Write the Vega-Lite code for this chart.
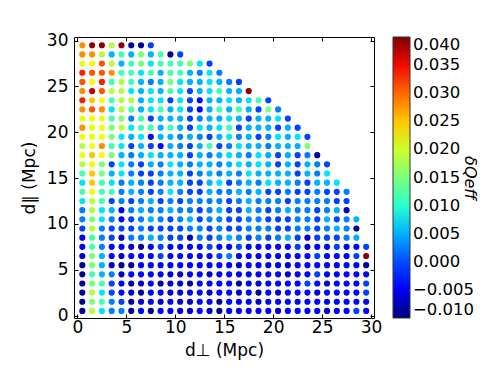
{
"$schema":"https://vega.github.io/schema/vega-lite/v6.json",
"width":300,"height":281,
"autosize":{"type":"none"},
"padding":{"left":74,"top":37,"right":125,"bottom":56},
"config":{"font":"DejaVu Sans","view":{"stroke":"#000","strokeWidth":1},
"axis":{"grid":false,"domain":false,"tickColor":"#000","tickSize":-4,"tickWidth":1,"labelColor":"#000","labelFontSize":17,"titleColor":"#000","titleFontSize":17,"titleFontWeight":"normal"}},
"data":{"values":[
{"x":0.5,"y":29.5,"v":0.028},{"x":1.5,"y":29.5,"v":0.0395},{"x":2.5,"y":29.5,"v":0.0395},{"x":3.5,"y":29.5,"v":0.0185},{"x":4.5,"y":29.5,"v":0.0395},{"x":5.5,"y":29.5,"v":-0.0092},{"x":6.5,"y":29.5,"v":-0.0092},{"x":7.5,"y":29.5,"v":-0.0005},
{"x":0.5,"y":28.5,"v":0.028},{"x":1.5,"y":28.5,"v":0.028},{"x":2.5,"y":28.5,"v":0.0185},{"x":3.5,"y":28.5,"v":0.005},{"x":4.5,"y":28.5,"v":0.0115},{"x":5.5,"y":28.5,"v":0.005},{"x":6.5,"y":28.5,"v":0.015},{"x":7.5,"y":28.5,"v":0.005},{"x":8.5,"y":28.5,"v":0.0115},{"x":9.5,"y":28.5,"v":-0.0092},{"x":10.5,"y":28.5,"v":-0.0005},
{"x":0.5,"y":27.5,"v":0.022},{"x":1.5,"y":27.5,"v":0.022},{"x":2.5,"y":27.5,"v":0.031},{"x":3.5,"y":27.5,"v":0.0185},{"x":4.5,"y":27.5,"v":0.005},{"x":5.5,"y":27.5,"v":0.0115},{"x":6.5,"y":27.5,"v":0.015},{"x":7.5,"y":27.5,"v":0.0075},{"x":8.5,"y":27.5,"v":0.0115},{"x":9.5,"y":27.5,"v":0.0115},{"x":10.5,"y":27.5,"v":0.0115},{"x":11.5,"y":27.5,"v":0.015},{"x":12.5,"y":27.5,"v":0.0075},{"x":13.5,"y":27.5,"v":-0.0005},
{"x":0.5,"y":26.5,"v":0.034},{"x":1.5,"y":26.5,"v":0.031},{"x":2.5,"y":26.5,"v":0.031},{"x":3.5,"y":26.5,"v":0.028},{"x":4.5,"y":26.5,"v":0.0115},{"x":5.5,"y":26.5,"v":0.0115},{"x":6.5,"y":26.5,"v":0.0075},{"x":7.5,"y":26.5,"v":0.0115},{"x":8.5,"y":26.5,"v":0.005},{"x":9.5,"y":26.5,"v":0.0115},{"x":10.5,"y":26.5,"v":0.0115},{"x":11.5,"y":26.5,"v":0.005},{"x":12.5,"y":26.5,"v":0.0025},{"x":13.5,"y":26.5,"v":0.0075},{"x":14.5,"y":26.5,"v":0.0025},
{"x":0.5,"y":25.5,"v":0.031},{"x":1.5,"y":25.5,"v":0.022},{"x":2.5,"y":25.5,"v":0.034},{"x":3.5,"y":25.5,"v":0.0115},{"x":4.5,"y":25.5,"v":0.0185},{"x":5.5,"y":25.5,"v":0.0115},{"x":6.5,"y":25.5,"v":0.005},{"x":7.5,"y":25.5,"v":0.0025},{"x":8.5,"y":25.5,"v":0.005},{"x":9.5,"y":25.5,"v":0.015},{"x":10.5,"y":25.5,"v":0.0075},{"x":11.5,"y":25.5,"v":0.005},{"x":12.5,"y":25.5,"v":0.005},{"x":13.5,"y":25.5,"v":0.0075},{"x":14.5,"y":25.5,"v":0.005},{"x":15.5,"y":25.5,"v":0.0025},{"x":16.5,"y":25.5,"v":-0.0005},
{"x":0.5,"y":24.5,"v":0.028},{"x":1.5,"y":24.5,"v":0.037},{"x":2.5,"y":24.5,"v":0.031},{"x":3.5,"y":24.5,"v":0.0185},{"x":4.5,"y":24.5,"v":0.0185},{"x":5.5,"y":24.5,"v":0.0075},{"x":6.5,"y":24.5,"v":0.005},{"x":7.5,"y":24.5,"v":0.0075},{"x":8.5,"y":24.5,"v":0.005},{"x":9.5,"y":24.5,"v":0.0115},{"x":10.5,"y":24.5,"v":0.0075},{"x":11.5,"y":24.5,"v":-0.0005},{"x":12.5,"y":24.5,"v":0.005},{"x":13.5,"y":24.5,"v":0.0075},{"x":14.5,"y":24.5,"v":0.0115},{"x":15.5,"y":24.5,"v":0.005},{"x":16.5,"y":24.5,"v":0.005},{"x":17.5,"y":24.5,"v":0.0395},
{"x":0.5,"y":23.5,"v":0.034},{"x":1.5,"y":23.5,"v":0.025},{"x":2.5,"y":23.5,"v":0.022},{"x":3.5,"y":23.5,"v":0.0115},{"x":4.5,"y":23.5,"v":0.0185},{"x":5.5,"y":23.5,"v":0.0185},{"x":6.5,"y":23.5,"v":0.005},{"x":7.5,"y":23.5,"v":0.0075},{"x":8.5,"y":23.5,"v":0.0075},{"x":9.5,"y":23.5,"v":-0.0005},{"x":10.5,"y":23.5,"v":0.0075},{"x":11.5,"y":23.5,"v":-0.0005},{"x":12.5,"y":23.5,"v":-0.0035},{"x":13.5,"y":23.5,"v":0.005},{"x":14.5,"y":23.5,"v":0.005},{"x":15.5,"y":23.5,"v":0.0075},{"x":16.5,"y":23.5,"v":0.005},{"x":17.5,"y":23.5,"v":0.0075},{"x":18.5,"y":23.5,"v":0.0115},{"x":19.5,"y":23.5,"v":-0.0005},
{"x":0.5,"y":22.5,"v":0.028},{"x":1.5,"y":22.5,"v":0.031},{"x":2.5,"y":22.5,"v":0.028},{"x":3.5,"y":22.5,"v":0.0075},{"x":4.5,"y":22.5,"v":0.0185},{"x":5.5,"y":22.5,"v":0.0115},{"x":6.5,"y":22.5,"v":0.005},{"x":7.5,"y":22.5,"v":0.0075},{"x":8.5,"y":22.5,"v":0.0115},{"x":9.5,"y":22.5,"v":0.005},{"x":10.5,"y":22.5,"v":0.0075},{"x":11.5,"y":22.5,"v":-0.0005},{"x":12.5,"y":22.5,"v":-0.0035},{"x":13.5,"y":22.5,"v":0.005},{"x":14.5,"y":22.5,"v":0.0115},{"x":15.5,"y":22.5,"v":0.005},{"x":16.5,"y":22.5,"v":0.0115},{"x":17.5,"y":22.5,"v":0.005},{"x":18.5,"y":22.5,"v":-0.0005},{"x":19.5,"y":22.5,"v":0.015},{"x":20.5,"y":22.5,"v":0.0025},
{"x":0.5,"y":21.5,"v":0.022},{"x":1.5,"y":21.5,"v":0.022},{"x":2.5,"y":21.5,"v":0.022},{"x":3.5,"y":21.5,"v":0.0115},{"x":4.5,"y":21.5,"v":0.015},{"x":5.5,"y":21.5,"v":0.0025},{"x":6.5,"y":21.5,"v":0.0115},{"x":7.5,"y":21.5,"v":-0.0005},{"x":8.5,"y":21.5,"v":0.005},{"x":9.5,"y":21.5,"v":0.005},{"x":10.5,"y":21.5,"v":0.005},{"x":11.5,"y":21.5,"v":-0.0005},{"x":12.5,"y":21.5,"v":0.0025},{"x":13.5,"y":21.5,"v":0.005},{"x":14.5,"y":21.5,"v":0.005},{"x":15.5,"y":21.5,"v":0.0075},{"x":16.5,"y":21.5,"v":0.005},{"x":17.5,"y":21.5,"v":-0.0005},{"x":18.5,"y":21.5,"v":0.005},{"x":19.5,"y":21.5,"v":0.005},{"x":20.5,"y":21.5,"v":0.0075},{"x":21.5,"y":21.5,"v":-0.0005},
{"x":0.5,"y":20.5,"v":0.028},{"x":1.5,"y":20.5,"v":0.022},{"x":2.5,"y":20.5,"v":0.022},{"x":3.5,"y":20.5,"v":0.015},{"x":4.5,"y":20.5,"v":0.0185},{"x":5.5,"y":20.5,"v":0.0075},{"x":6.5,"y":20.5,"v":0.0115},{"x":7.5,"y":20.5,"v":0.0115},{"x":8.5,"y":20.5,"v":0.005},{"x":9.5,"y":20.5,"v":0.0115},{"x":10.5,"y":20.5,"v":0.005},{"x":11.5,"y":20.5,"v":-0.0005},{"x":12.5,"y":20.5,"v":0.0075},{"x":13.5,"y":20.5,"v":0.005},{"x":14.5,"y":20.5,"v":0.0075},{"x":15.5,"y":20.5,"v":0.0115},{"x":16.5,"y":20.5,"v":-0.0005},{"x":17.5,"y":20.5,"v":0.005},{"x":18.5,"y":20.5,"v":0.005},{"x":19.5,"y":20.5,"v":0.005},{"x":20.5,"y":20.5,"v":-0.0005},{"x":21.5,"y":20.5,"v":0.005},{"x":22.5,"y":20.5,"v":-0.0005},
{"x":0.5,"y":19.5,"v":0.022},{"x":1.5,"y":19.5,"v":0.022},{"x":2.5,"y":19.5,"v":0.022},{"x":3.5,"y":19.5,"v":0.015},{"x":4.5,"y":19.5,"v":0.0075},{"x":5.5,"y":19.5,"v":0.005},{"x":6.5,"y":19.5,"v":0.0075},{"x":7.5,"y":19.5,"v":-0.0035},{"x":8.5,"y":19.5,"v":0.005},{"x":9.5,"y":19.5,"v":0.005},{"x":10.5,"y":19.5,"v":0.0025},{"x":11.5,"y":19.5,"v":0.005},{"x":12.5,"y":19.5,"v":0.0025},{"x":13.5,"y":19.5,"v":-0.0005},{"x":14.5,"y":19.5,"v":0.005},{"x":15.5,"y":19.5,"v":0.0075},{"x":16.5,"y":19.5,"v":0.0025},{"x":17.5,"y":19.5,"v":0.005},{"x":18.5,"y":19.5,"v":-0.0005},{"x":19.5,"y":19.5,"v":0.0025},{"x":20.5,"y":19.5,"v":0.0075},{"x":21.5,"y":19.5,"v":0.005},{"x":22.5,"y":19.5,"v":0.0075},{"x":23.5,"y":19.5,"v":-0.0005},
{"x":0.5,"y":18.5,"v":0.0185},{"x":1.5,"y":18.5,"v":0.022},{"x":2.5,"y":18.5,"v":0.028},{"x":3.5,"y":18.5,"v":0.0115},{"x":4.5,"y":18.5,"v":0.0075},{"x":5.5,"y":18.5,"v":-0.0005},{"x":6.5,"y":18.5,"v":0.005},{"x":7.5,"y":18.5,"v":-0.0005},{"x":8.5,"y":18.5,"v":-0.0035},{"x":9.5,"y":18.5,"v":0.005},{"x":10.5,"y":18.5,"v":0.0025},{"x":11.5,"y":18.5,"v":-0.0005},{"x":12.5,"y":18.5,"v":0.005},{"x":13.5,"y":18.5,"v":0.0115},{"x":14.5,"y":18.5,"v":-0.0005},{"x":15.5,"y":18.5,"v":0.0025},{"x":16.5,"y":18.5,"v":0.0075},{"x":17.5,"y":18.5,"v":0.005},{"x":18.5,"y":18.5,"v":0.005},{"x":19.5,"y":18.5,"v":0.0025},{"x":20.5,"y":18.5,"v":0.005},{"x":21.5,"y":18.5,"v":0.005},{"x":22.5,"y":18.5,"v":0.005},{"x":23.5,"y":18.5,"v":0.015},
{"x":0.5,"y":17.5,"v":0.022},{"x":1.5,"y":17.5,"v":0.025},{"x":2.5,"y":17.5,"v":0.022},{"x":3.5,"y":17.5,"v":0.015},{"x":4.5,"y":17.5,"v":0.005},{"x":5.5,"y":17.5,"v":0.0025},{"x":6.5,"y":17.5,"v":0.005},{"x":7.5,"y":17.5,"v":0.0075},{"x":8.5,"y":17.5,"v":0.005},{"x":9.5,"y":17.5,"v":0.005},{"x":10.5,"y":17.5,"v":0.005},{"x":11.5,"y":17.5,"v":-0.0005},{"x":12.5,"y":17.5,"v":0.005},{"x":13.5,"y":17.5,"v":0.0025},{"x":14.5,"y":17.5,"v":0.005},{"x":15.5,"y":17.5,"v":0.0075},{"x":16.5,"y":17.5,"v":0.005},{"x":17.5,"y":17.5,"v":0.0025},{"x":18.5,"y":17.5,"v":0.0075},{"x":19.5,"y":17.5,"v":0.005},{"x":20.5,"y":17.5,"v":-0.0005},{"x":21.5,"y":17.5,"v":0.005},{"x":22.5,"y":17.5,"v":-0.0005},{"x":23.5,"y":17.5,"v":0.0025},{"x":24.5,"y":17.5,"v":-0.0092},
{"x":0.5,"y":16.5,"v":0.0185},{"x":1.5,"y":16.5,"v":0.022},{"x":2.5,"y":16.5,"v":0.015},{"x":3.5,"y":16.5,"v":-0.0005},{"x":4.5,"y":16.5,"v":0.0075},{"x":5.5,"y":16.5,"v":0.0025},{"x":6.5,"y":16.5,"v":-0.0005},{"x":7.5,"y":16.5,"v":0.005},{"x":8.5,"y":16.5,"v":0.0025},{"x":9.5,"y":16.5,"v":0.0075},{"x":10.5,"y":16.5,"v":0.005},{"x":11.5,"y":16.5,"v":0.0025},{"x":12.5,"y":16.5,"v":0.005},{"x":13.5,"y":16.5,"v":0.005},{"x":14.5,"y":16.5,"v":0.0025},{"x":15.5,"y":16.5,"v":0.005},{"x":16.5,"y":16.5,"v":0.0075},{"x":17.5,"y":16.5,"v":0.005},{"x":18.5,"y":16.5,"v":0.0075},{"x":19.5,"y":16.5,"v":0.005},{"x":20.5,"y":16.5,"v":-0.0005},{"x":21.5,"y":16.5,"v":0.005},{"x":22.5,"y":16.5,"v":-0.0005},{"x":23.5,"y":16.5,"v":0.005},{"x":24.5,"y":16.5,"v":0.0025},{"x":25.5,"y":16.5,"v":-0.0005},
{"x":0.5,"y":15.5,"v":0.0115},{"x":1.5,"y":15.5,"v":0.025},{"x":2.5,"y":15.5,"v":0.015},{"x":3.5,"y":15.5,"v":0.005},{"x":4.5,"y":15.5,"v":0.0075},{"x":5.5,"y":15.5,"v":0.0025},{"x":6.5,"y":15.5,"v":-0.0005},{"x":7.5,"y":15.5,"v":-0.0005},{"x":8.5,"y":15.5,"v":0.0025},{"x":9.5,"y":15.5,"v":0.005},{"x":10.5,"y":15.5,"v":0.005},{"x":11.5,"y":15.5,"v":-0.0005},{"x":12.5,"y":15.5,"v":0.0025},{"x":13.5,"y":15.5,"v":0.005},{"x":14.5,"y":15.5,"v":0.0025},{"x":15.5,"y":15.5,"v":0.005},{"x":16.5,"y":15.5,"v":0.0025},{"x":17.5,"y":15.5,"v":0.0075},{"x":18.5,"y":15.5,"v":0.005},{"x":19.5,"y":15.5,"v":0.005},{"x":20.5,"y":15.5,"v":0.005},{"x":21.5,"y":15.5,"v":0.005},{"x":22.5,"y":15.5,"v":-0.0005},{"x":23.5,"y":15.5,"v":0.005},{"x":24.5,"y":15.5,"v":0.0025},{"x":25.5,"y":15.5,"v":0.0075},
{"x":0.5,"y":14.5,"v":0.0075},{"x":1.5,"y":14.5,"v":0.025},{"x":2.5,"y":14.5,"v":0.0115},{"x":3.5,"y":14.5,"v":0.0075},{"x":4.5,"y":14.5,"v":0.0025},{"x":5.5,"y":14.5,"v":0.005},{"x":6.5,"y":14.5,"v":0.0025},{"x":7.5,"y":14.5,"v":-0.0005},{"x":8.5,"y":14.5,"v":0.0025},{"x":9.5,"y":14.5,"v":0.005},{"x":10.5,"y":14.5,"v":0.005},{"x":11.5,"y":14.5,"v":-0.0005},{"x":12.5,"y":14.5,"v":-0.0005},{"x":13.5,"y":14.5,"v":0.005},{"x":14.5,"y":14.5,"v":0.0075},{"x":15.5,"y":14.5,"v":-0.0005},{"x":16.5,"y":14.5,"v":0.0025},{"x":17.5,"y":14.5,"v":0.005},{"x":18.5,"y":14.5,"v":0.0025},{"x":19.5,"y":14.5,"v":0.0075},{"x":20.5,"y":14.5,"v":0.005},{"x":21.5,"y":14.5,"v":0.005},{"x":22.5,"y":14.5,"v":0.0025},{"x":23.5,"y":14.5,"v":-0.0005},{"x":24.5,"y":14.5,"v":0.005},{"x":25.5,"y":14.5,"v":0.005},{"x":26.5,"y":14.5,"v":0.0075},
{"x":0.5,"y":13.5,"v":0.0115},{"x":1.5,"y":13.5,"v":0.022},{"x":2.5,"y":13.5,"v":0.0115},{"x":3.5,"y":13.5,"v":0.0115},{"x":4.5,"y":13.5,"v":0.0025},{"x":5.5,"y":13.5,"v":0.005},{"x":6.5,"y":13.5,"v":0.0025},{"x":7.5,"y":13.5,"v":-0.0005},{"x":8.5,"y":13.5,"v":0.0025},{"x":9.5,"y":13.5,"v":0.0075},{"x":10.5,"y":13.5,"v":0.0025},{"x":11.5,"y":13.5,"v":-0.0005},{"x":12.5,"y":13.5,"v":-0.0005},{"x":13.5,"y":13.5,"v":0.005},{"x":14.5,"y":13.5,"v":0.0025},{"x":15.5,"y":13.5,"v":0.0025},{"x":16.5,"y":13.5,"v":0.005},{"x":17.5,"y":13.5,"v":0.0025},{"x":18.5,"y":13.5,"v":0.005},{"x":19.5,"y":13.5,"v":-0.0005},{"x":20.5,"y":13.5,"v":-0.0005},{"x":21.5,"y":13.5,"v":0.0025},{"x":22.5,"y":13.5,"v":-0.0005},{"x":23.5,"y":13.5,"v":-0.0005},{"x":24.5,"y":13.5,"v":0.0025},{"x":25.5,"y":13.5,"v":-0.0005},{"x":26.5,"y":13.5,"v":-0.0005},{"x":27.5,"y":13.5,"v":0.0025},
{"x":0.5,"y":12.5,"v":0.0075},{"x":1.5,"y":12.5,"v":0.0185},{"x":2.5,"y":12.5,"v":0.0115},{"x":3.5,"y":12.5,"v":-0.0005},{"x":4.5,"y":12.5,"v":0.0025},{"x":5.5,"y":12.5,"v":-0.0005},{"x":6.5,"y":12.5,"v":0.0025},{"x":7.5,"y":12.5,"v":0.005},{"x":8.5,"y":12.5,"v":-0.0005},{"x":9.5,"y":12.5,"v":0.0025},{"x":10.5,"y":12.5,"v":-0.0005},{"x":11.5,"y":12.5,"v":0.0025},{"x":12.5,"y":12.5,"v":0.0025},{"x":13.5,"y":12.5,"v":0.0025},{"x":14.5,"y":12.5,"v":0.0025},{"x":15.5,"y":12.5,"v":-0.0005},{"x":16.5,"y":12.5,"v":0.0025},{"x":17.5,"y":12.5,"v":0.005},{"x":18.5,"y":12.5,"v":0.0025},{"x":19.5,"y":12.5,"v":0.0025},{"x":20.5,"y":12.5,"v":0.0025},{"x":21.5,"y":12.5,"v":-0.0005},{"x":22.5,"y":12.5,"v":0.0025},{"x":23.5,"y":12.5,"v":0.0025},{"x":24.5,"y":12.5,"v":0.0025},{"x":25.5,"y":12.5,"v":0.0025},{"x":26.5,"y":12.5,"v":-0.0005},{"x":27.5,"y":12.5,"v":-0.0005},
{"x":0.5,"y":11.5,"v":0.0025},{"x":1.5,"y":11.5,"v":0.0185},{"x":2.5,"y":11.5,"v":0.0075},{"x":3.5,"y":11.5,"v":0.005},{"x":4.5,"y":11.5,"v":-0.0035},{"x":5.5,"y":11.5,"v":0.0025},{"x":6.5,"y":11.5,"v":0.005},{"x":7.5,"y":11.5,"v":0.0025},{"x":8.5,"y":11.5,"v":0.0025},{"x":9.5,"y":11.5,"v":0.005},{"x":10.5,"y":11.5,"v":0.0025},{"x":11.5,"y":11.5,"v":0.0025},{"x":12.5,"y":11.5,"v":-0.0005},{"x":13.5,"y":11.5,"v":0.0025},{"x":14.5,"y":11.5,"v":0.005},{"x":15.5,"y":11.5,"v":-0.0005},{"x":16.5,"y":11.5,"v":-0.0005},{"x":17.5,"y":11.5,"v":0.005},{"x":18.5,"y":11.5,"v":0.0025},{"x":19.5,"y":11.5,"v":-0.0005},{"x":20.5,"y":11.5,"v":0.0025},{"x":21.5,"y":11.5,"v":0.005},{"x":22.5,"y":11.5,"v":0.0025},{"x":23.5,"y":11.5,"v":0.0025},{"x":24.5,"y":11.5,"v":-0.0005},{"x":25.5,"y":11.5,"v":0.0025},{"x":26.5,"y":11.5,"v":0.005},{"x":27.5,"y":11.5,"v":-0.0065},
{"x":0.5,"y":10.5,"v":0.0025},{"x":1.5,"y":10.5,"v":0.015},{"x":2.5,"y":10.5,"v":0.0075},{"x":3.5,"y":10.5,"v":0.0025},{"x":4.5,"y":10.5,"v":-0.0035},{"x":5.5,"y":10.5,"v":-0.0005},{"x":6.5,"y":10.5,"v":0.0025},{"x":7.5,"y":10.5,"v":0.005},{"x":8.5,"y":10.5,"v":0.0025},{"x":9.5,"y":10.5,"v":-0.0005},{"x":10.5,"y":10.5,"v":0.0025},{"x":11.5,"y":10.5,"v":0.005},{"x":12.5,"y":10.5,"v":-0.0005},{"x":13.5,"y":10.5,"v":0.0025},{"x":14.5,"y":10.5,"v":0.0025},{"x":15.5,"y":10.5,"v":-0.0005},{"x":16.5,"y":10.5,"v":-0.0005},{"x":17.5,"y":10.5,"v":0.0025},{"x":18.5,"y":10.5,"v":0.0025},{"x":19.5,"y":10.5,"v":-0.0005},{"x":20.5,"y":10.5,"v":-0.0005},{"x":21.5,"y":10.5,"v":-0.0005},{"x":22.5,"y":10.5,"v":0.0025},{"x":23.5,"y":10.5,"v":0.0025},{"x":24.5,"y":10.5,"v":-0.0005},{"x":25.5,"y":10.5,"v":0.005},{"x":26.5,"y":10.5,"v":-0.0005},{"x":27.5,"y":10.5,"v":0.0025},{"x":28.5,"y":10.5,"v":0.005},
{"x":0.5,"y":9.5,"v":-0.0005},{"x":1.5,"y":9.5,"v":0.0185},{"x":2.5,"y":9.5,"v":0.0025},{"x":3.5,"y":9.5,"v":-0.0005},{"x":4.5,"y":9.5,"v":-0.0005},{"x":5.5,"y":9.5,"v":-0.0005},{"x":6.5,"y":9.5,"v":0.0025},{"x":7.5,"y":9.5,"v":-0.0005},{"x":8.5,"y":9.5,"v":-0.0005},{"x":9.5,"y":9.5,"v":-0.0005},{"x":10.5,"y":9.5,"v":-0.0005},{"x":11.5,"y":9.5,"v":0.0025},{"x":12.5,"y":9.5,"v":0.0025},{"x":13.5,"y":9.5,"v":-0.0005},{"x":14.5,"y":9.5,"v":0.0025},{"x":15.5,"y":9.5,"v":-0.0005},{"x":16.5,"y":9.5,"v":-0.0005},{"x":17.5,"y":9.5,"v":0.0025},{"x":18.5,"y":9.5,"v":0.0025},{"x":19.5,"y":9.5,"v":0.0025},{"x":20.5,"y":9.5,"v":-0.0005},{"x":21.5,"y":9.5,"v":-0.0005},{"x":22.5,"y":9.5,"v":0.0025},{"x":23.5,"y":9.5,"v":0.0025},{"x":24.5,"y":9.5,"v":-0.0005},{"x":25.5,"y":9.5,"v":0.0025},{"x":26.5,"y":9.5,"v":0.005},{"x":27.5,"y":9.5,"v":0.0025},{"x":28.5,"y":9.5,"v":-0.0092},
{"x":0.5,"y":8.5,"v":-0.0035},{"x":1.5,"y":8.5,"v":0.0115},{"x":2.5,"y":8.5,"v":0.0025},{"x":3.5,"y":8.5,"v":-0.0005},{"x":4.5,"y":8.5,"v":-0.0065},{"x":5.5,"y":8.5,"v":0.0025},{"x":6.5,"y":8.5,"v":0.0025},{"x":7.5,"y":8.5,"v":0.005},{"x":8.5,"y":8.5,"v":0.0025},{"x":9.5,"y":8.5,"v":-0.0005},{"x":10.5,"y":8.5,"v":-0.0005},{"x":11.5,"y":8.5,"v":-0.0065},{"x":12.5,"y":8.5,"v":0.0025},{"x":13.5,"y":8.5,"v":-0.0005},{"x":14.5,"y":8.5,"v":0.0025},{"x":15.5,"y":8.5,"v":0.005},{"x":16.5,"y":8.5,"v":0.0025},{"x":17.5,"y":8.5,"v":-0.0005},{"x":18.5,"y":8.5,"v":0.0025},{"x":19.5,"y":8.5,"v":-0.0005},{"x":20.5,"y":8.5,"v":0.0025},{"x":21.5,"y":8.5,"v":0.005},{"x":22.5,"y":8.5,"v":-0.0005},{"x":23.5,"y":8.5,"v":-0.0065},{"x":24.5,"y":8.5,"v":-0.0005},{"x":25.5,"y":8.5,"v":-0.0005},{"x":26.5,"y":8.5,"v":-0.0005},{"x":27.5,"y":8.5,"v":0.0025},{"x":28.5,"y":8.5,"v":0.005},
{"x":0.5,"y":7.5,"v":-0.0035},{"x":1.5,"y":7.5,"v":0.0115},{"x":2.5,"y":7.5,"v":0.0025},{"x":3.5,"y":7.5,"v":-0.0035},{"x":4.5,"y":7.5,"v":-0.0035},{"x":5.5,"y":7.5,"v":-0.0065},{"x":6.5,"y":7.5,"v":-0.0092},{"x":7.5,"y":7.5,"v":-0.0035},{"x":8.5,"y":7.5,"v":-0.0005},{"x":9.5,"y":7.5,"v":-0.0035},{"x":10.5,"y":7.5,"v":-0.0035},{"x":11.5,"y":7.5,"v":-0.0035},{"x":12.5,"y":7.5,"v":-0.0035},{"x":13.5,"y":7.5,"v":-0.0005},{"x":14.5,"y":7.5,"v":-0.0035},{"x":15.5,"y":7.5,"v":-0.0035},{"x":16.5,"y":7.5,"v":-0.0005},{"x":17.5,"y":7.5,"v":-0.0035},{"x":18.5,"y":7.5,"v":-0.0035},{"x":19.5,"y":7.5,"v":-0.0035},{"x":20.5,"y":7.5,"v":-0.0035},{"x":21.5,"y":7.5,"v":-0.0035},{"x":22.5,"y":7.5,"v":-0.0005},{"x":23.5,"y":7.5,"v":-0.0065},{"x":24.5,"y":7.5,"v":-0.0035},{"x":25.5,"y":7.5,"v":-0.0035},{"x":26.5,"y":7.5,"v":-0.0005},{"x":27.5,"y":7.5,"v":-0.0035},{"x":28.5,"y":7.5,"v":-0.0035},{"x":29.5,"y":7.5,"v":-0.0005},
{"x":0.5,"y":6.5,"v":-0.0065},{"x":1.5,"y":6.5,"v":0.015},{"x":2.5,"y":6.5,"v":0.005},{"x":3.5,"y":6.5,"v":-0.0035},{"x":4.5,"y":6.5,"v":-0.0065},{"x":5.5,"y":6.5,"v":-0.0035},{"x":6.5,"y":6.5,"v":-0.0035},{"x":7.5,"y":6.5,"v":-0.0035},{"x":8.5,"y":6.5,"v":-0.0005},{"x":9.5,"y":6.5,"v":-0.0035},{"x":10.5,"y":6.5,"v":-0.0035},{"x":11.5,"y":6.5,"v":-0.0035},{"x":12.5,"y":6.5,"v":-0.0035},{"x":13.5,"y":6.5,"v":-0.0035},{"x":14.5,"y":6.5,"v":-0.0005},{"x":15.5,"y":6.5,"v":0.0025},{"x":16.5,"y":6.5,"v":-0.0035},{"x":17.5,"y":6.5,"v":-0.0035},{"x":18.5,"y":6.5,"v":-0.0035},{"x":19.5,"y":6.5,"v":-0.0035},{"x":20.5,"y":6.5,"v":-0.0035},{"x":21.5,"y":6.5,"v":-0.0035},{"x":22.5,"y":6.5,"v":-0.0035},{"x":23.5,"y":6.5,"v":-0.0035},{"x":24.5,"y":6.5,"v":-0.0005},{"x":25.5,"y":6.5,"v":-0.0035},{"x":26.5,"y":6.5,"v":-0.0035},{"x":27.5,"y":6.5,"v":-0.0035},{"x":28.5,"y":6.5,"v":-0.0005},{"x":29.5,"y":6.5,"v":0.0395},
{"x":0.5,"y":5.5,"v":-0.0092},{"x":1.5,"y":5.5,"v":0.015},{"x":2.5,"y":5.5,"v":0.005},{"x":3.5,"y":5.5,"v":-0.0065},{"x":4.5,"y":5.5,"v":-0.0092},{"x":5.5,"y":5.5,"v":-0.0092},{"x":6.5,"y":5.5,"v":-0.0035},{"x":7.5,"y":5.5,"v":-0.0035},{"x":8.5,"y":5.5,"v":-0.0035},{"x":9.5,"y":5.5,"v":-0.0035},{"x":10.5,"y":5.5,"v":-0.0035},{"x":11.5,"y":5.5,"v":-0.0035},{"x":12.5,"y":5.5,"v":-0.0035},{"x":13.5,"y":5.5,"v":-0.0035},{"x":14.5,"y":5.5,"v":-0.0035},{"x":15.5,"y":5.5,"v":-0.0035},{"x":16.5,"y":5.5,"v":-0.0065},{"x":17.5,"y":5.5,"v":-0.0035},{"x":18.5,"y":5.5,"v":-0.0035},{"x":19.5,"y":5.5,"v":-0.0065},{"x":20.5,"y":5.5,"v":-0.0035},{"x":21.5,"y":5.5,"v":-0.0065},{"x":22.5,"y":5.5,"v":-0.0035},{"x":23.5,"y":5.5,"v":-0.0035},{"x":24.5,"y":5.5,"v":-0.0035},{"x":25.5,"y":5.5,"v":-0.0035},{"x":26.5,"y":5.5,"v":-0.0035},{"x":27.5,"y":5.5,"v":-0.0035},{"x":28.5,"y":5.5,"v":-0.0035},{"x":29.5,"y":5.5,"v":-0.0092},
{"x":0.5,"y":4.5,"v":-0.0092},{"x":1.5,"y":4.5,"v":0.0115},{"x":2.5,"y":4.5,"v":0.005},{"x":3.5,"y":4.5,"v":0.0025},{"x":4.5,"y":4.5,"v":-0.0065},{"x":5.5,"y":4.5,"v":-0.0035},{"x":6.5,"y":4.5,"v":-0.0035},{"x":7.5,"y":4.5,"v":-0.0035},{"x":8.5,"y":4.5,"v":-0.0035},{"x":9.5,"y":4.5,"v":-0.0065},{"x":10.5,"y":4.5,"v":-0.0065},{"x":11.5,"y":4.5,"v":-0.0035},{"x":12.5,"y":4.5,"v":-0.0035},{"x":13.5,"y":4.5,"v":-0.0065},{"x":14.5,"y":4.5,"v":-0.0035},{"x":15.5,"y":4.5,"v":-0.0035},{"x":16.5,"y":4.5,"v":-0.0035},{"x":17.5,"y":4.5,"v":-0.0035},{"x":18.5,"y":4.5,"v":-0.0035},{"x":19.5,"y":4.5,"v":-0.0035},{"x":20.5,"y":4.5,"v":-0.0035},{"x":21.5,"y":4.5,"v":-0.0065},{"x":22.5,"y":4.5,"v":-0.0035},{"x":23.5,"y":4.5,"v":-0.0035},{"x":24.5,"y":4.5,"v":-0.0005},{"x":25.5,"y":4.5,"v":-0.0035},{"x":26.5,"y":4.5,"v":-0.0035},{"x":27.5,"y":4.5,"v":-0.0035},{"x":28.5,"y":4.5,"v":-0.0035},{"x":29.5,"y":4.5,"v":-0.0035},
{"x":0.5,"y":3.5,"v":-0.0092},{"x":1.5,"y":3.5,"v":0.015},{"x":2.5,"y":3.5,"v":0.0115},{"x":3.5,"y":3.5,"v":-0.0005},{"x":4.5,"y":3.5,"v":-0.0035},{"x":5.5,"y":3.5,"v":-0.0092},{"x":6.5,"y":3.5,"v":-0.0065},{"x":7.5,"y":3.5,"v":-0.0035},{"x":8.5,"y":3.5,"v":-0.0092},{"x":9.5,"y":3.5,"v":-0.0065},{"x":10.5,"y":3.5,"v":-0.0065},{"x":11.5,"y":3.5,"v":-0.0092},{"x":12.5,"y":3.5,"v":-0.0035},{"x":13.5,"y":3.5,"v":-0.0035},{"x":14.5,"y":3.5,"v":-0.0035},{"x":15.5,"y":3.5,"v":-0.0035},{"x":16.5,"y":3.5,"v":-0.0092},{"x":17.5,"y":3.5,"v":-0.0035},{"x":18.5,"y":3.5,"v":-0.0065},{"x":19.5,"y":3.5,"v":-0.0035},{"x":20.5,"y":3.5,"v":-0.0035},{"x":21.5,"y":3.5,"v":-0.0035},{"x":22.5,"y":3.5,"v":-0.0035},{"x":23.5,"y":3.5,"v":-0.0005},{"x":24.5,"y":3.5,"v":-0.0035},{"x":25.5,"y":3.5,"v":-0.0065},{"x":26.5,"y":3.5,"v":-0.0035},{"x":27.5,"y":3.5,"v":-0.0035},{"x":28.5,"y":3.5,"v":-0.0035},{"x":29.5,"y":3.5,"v":-0.0005},
{"x":0.5,"y":2.5,"v":-0.0092},{"x":1.5,"y":2.5,"v":0.0185},{"x":2.5,"y":2.5,"v":0.0075},{"x":3.5,"y":2.5,"v":-0.0005},{"x":4.5,"y":2.5,"v":-0.0035},{"x":5.5,"y":2.5,"v":-0.0065},{"x":6.5,"y":2.5,"v":-0.0092},{"x":7.5,"y":2.5,"v":-0.0035},{"x":8.5,"y":2.5,"v":-0.0035},{"x":9.5,"y":2.5,"v":-0.0065},{"x":10.5,"y":2.5,"v":-0.0065},{"x":11.5,"y":2.5,"v":-0.0035},{"x":12.5,"y":2.5,"v":-0.0035},{"x":13.5,"y":2.5,"v":-0.0065},{"x":14.5,"y":2.5,"v":-0.0035},{"x":15.5,"y":2.5,"v":-0.0035},{"x":16.5,"y":2.5,"v":-0.0065},{"x":17.5,"y":2.5,"v":-0.0035},{"x":18.5,"y":2.5,"v":-0.0092},{"x":19.5,"y":2.5,"v":-0.0035},{"x":20.5,"y":2.5,"v":-0.0065},{"x":21.5,"y":2.5,"v":-0.0035},{"x":22.5,"y":2.5,"v":-0.0035},{"x":23.5,"y":2.5,"v":-0.0035},{"x":24.5,"y":2.5,"v":-0.0065},{"x":25.5,"y":2.5,"v":-0.0035},{"x":26.5,"y":2.5,"v":-0.0035},{"x":27.5,"y":2.5,"v":-0.0035},{"x":28.5,"y":2.5,"v":-0.0035},{"x":29.5,"y":2.5,"v":-0.0005},
{"x":0.5,"y":1.5,"v":-0.0092},{"x":1.5,"y":1.5,"v":0.015},{"x":2.5,"y":1.5,"v":0.0115},{"x":3.5,"y":1.5,"v":0.0025},{"x":4.5,"y":1.5,"v":-0.0005},{"x":5.5,"y":1.5,"v":-0.0092},{"x":6.5,"y":1.5,"v":-0.0065},{"x":7.5,"y":1.5,"v":-0.0035},{"x":8.5,"y":1.5,"v":-0.0065},{"x":9.5,"y":1.5,"v":-0.0035},{"x":10.5,"y":1.5,"v":-0.0065},{"x":11.5,"y":1.5,"v":-0.0065},{"x":12.5,"y":1.5,"v":-0.0035},{"x":13.5,"y":1.5,"v":-0.0035},{"x":14.5,"y":1.5,"v":-0.0092},{"x":15.5,"y":1.5,"v":-0.0035},{"x":16.5,"y":1.5,"v":-0.0035},{"x":17.5,"y":1.5,"v":-0.0035},{"x":18.5,"y":1.5,"v":-0.0065},{"x":19.5,"y":1.5,"v":-0.0035},{"x":20.5,"y":1.5,"v":-0.0035},{"x":21.5,"y":1.5,"v":-0.0035},{"x":22.5,"y":1.5,"v":-0.0035},{"x":23.5,"y":1.5,"v":-0.0035},{"x":24.5,"y":1.5,"v":-0.0035},{"x":25.5,"y":1.5,"v":-0.0035},{"x":26.5,"y":1.5,"v":-0.0035},{"x":27.5,"y":1.5,"v":-0.0035},{"x":28.5,"y":1.5,"v":-0.0035},{"x":29.5,"y":1.5,"v":-0.0035},
{"x":0.5,"y":0.5,"v":-0.0092},{"x":1.5,"y":0.5,"v":0.0185},{"x":2.5,"y":0.5,"v":0.0075},{"x":3.5,"y":0.5,"v":0.0025},{"x":4.5,"y":0.5,"v":0.0025},{"x":5.5,"y":0.5,"v":-0.0092},{"x":6.5,"y":0.5,"v":-0.0035},{"x":7.5,"y":0.5,"v":-0.0092},{"x":8.5,"y":0.5,"v":-0.0035},{"x":9.5,"y":0.5,"v":-0.0035},{"x":10.5,"y":0.5,"v":-0.0065},{"x":11.5,"y":0.5,"v":-0.0065},{"x":12.5,"y":0.5,"v":-0.0035},{"x":13.5,"y":0.5,"v":-0.0065},{"x":14.5,"y":0.5,"v":-0.0092},{"x":15.5,"y":0.5,"v":-0.0035},{"x":16.5,"y":0.5,"v":-0.0035},{"x":17.5,"y":0.5,"v":-0.0035},{"x":18.5,"y":0.5,"v":-0.0035},{"x":19.5,"y":0.5,"v":-0.0035},{"x":20.5,"y":0.5,"v":-0.0065},{"x":21.5,"y":0.5,"v":-0.0035},{"x":22.5,"y":0.5,"v":-0.0035},{"x":23.5,"y":0.5,"v":-0.0035},{"x":24.5,"y":0.5,"v":-0.0035},{"x":25.5,"y":0.5,"v":-0.0065},{"x":26.5,"y":0.5,"v":-0.0035},{"x":27.5,"y":0.5,"v":-0.0035},{"x":28.5,"y":0.5,"v":-0.0005},{"x":29.5,"y":0.5,"v":-0.0035}
]},
"layer":[
{"mark":{"type":"circle","size":38,"opacity":1},
"encoding":{
"x":{"field":"x","type":"quantitative","scale":{"domain":[-0.35,30.3],"nice":false,"zero":false},"axis":{"title":"d⊥ (Mpc)","values":[0,5,10,15,20,25,30],"labelPadding":5,"titlePadding":7}},
"y":{"field":"y","type":"quantitative","scale":{"domain":[-0.27,30.4],"nice":false,"zero":false},"axis":{"title":"d∥ (Mpc)","values":[0,5,10,15,20,25,30],"labelPadding":10,"titlePadding":8}},
"color":{"field":"v","type":"quantitative",
"scale":{"domain":[-0.01,-0.0045,-0.00375,0.007,0.0075,0.00875,0.022,0.0225,0.023,0.0345,0.0355,0.04],
"range":["#000080","#0000ff","#0000ff","#00dbff","#00e6f7","#15ffe2","#efff08","#f7f600","#ffec00","#ff1300","#e80000","#800000"],"interpolate":"rgb","clamp":true},
"legend":{"title":"δQeff","values":[-0.01,-0.005,0,0.005,0.01,0.015,0.02,0.025,0.03,0.035,0.04],"format":".3f","gradientLength":281,"gradientThickness":17,"gradientStrokeColor":"#333","gradientStrokeWidth":1,"labelFontSize":16.5,"labelColor":"#000","labelAlign":"left","labelOffset":3,"labelOverlap":false,"titleOrient":"right","titleAnchor":"middle","titleFontSize":16,"titleFontStyle":"italic","titleFontWeight":"normal","titleColor":"#000","titlePadding":-12,"offset":18,"padding":0}}
}},
{"mark":{"type":"circle","opacity":0},
"encoding":{
"x":{"field":"x","type":"quantitative","axis":{"orient":"top","labels":false,"title":null,"values":[0,5,10,15,20,25,30]}},
"y":{"field":"y","type":"quantitative","axis":{"orient":"right","labels":false,"title":null,"values":[0,5,10,15,20,25,30]}}
}}
],
"resolve":{"axis":{"x":"independent","y":"independent"}}
}
